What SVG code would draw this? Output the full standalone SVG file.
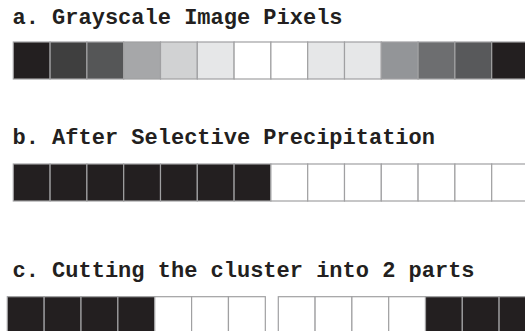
<svg xmlns="http://www.w3.org/2000/svg" width="525" height="331" viewBox="0 0 525 331">
<style>
.t{font-family:"Liberation Mono","Courier New",monospace;font-weight:bold;font-size:22px;fill:#231f20}
.c rect{stroke:#a0a0a2;stroke-width:1.2}
.k{fill:#231f20}
.w{fill:#ffffff}
</style>
<rect x="0" y="0" width="525" height="331" fill="#ffffff"/>
<g id="row-a">
<text class="t" x="12.5" y="24">a. Grayscale Image Pixels</text>
<g class="c">
<rect x="13.3" y="42" width="36.8" height="37" fill="#231f20"/>
<rect x="50.1" y="42" width="36.8" height="37" fill="#3f3f3f"/>
<rect x="86.9" y="42" width="36.8" height="37" fill="#555657"/>
<rect x="123.7" y="42" width="36.8" height="37" fill="#a6a7a9"/>
<rect x="160.5" y="42" width="36.8" height="37" fill="#d1d2d3"/>
<rect x="197.3" y="42" width="36.8" height="37" fill="#e6e7e8"/>
<rect x="234.1" y="42" width="36.8" height="37" fill="#ffffff"/>
<rect x="270.9" y="42" width="36.8" height="37" fill="#ffffff"/>
<rect x="307.7" y="42" width="36.8" height="37" fill="#e6e7e8"/>
<rect x="344.5" y="42" width="36.8" height="37" fill="#e6e7e8"/>
<rect x="381.3" y="42" width="36.8" height="37" fill="#939598"/>
<rect x="418.1" y="42" width="36.8" height="37" fill="#6d6e70"/>
<rect x="454.9" y="42" width="36.8" height="37" fill="#58595b"/>
<rect x="491.7" y="42" width="36.8" height="37" fill="#231f20"/>
</g>
</g>
<g id="row-b">
<text class="t" x="12.5" y="144">b. After Selective Precipitation</text>
<g class="c">
<rect class="k" x="13.3" y="164" width="36.8" height="37"/>
<rect class="k" x="50.1" y="164" width="36.8" height="37"/>
<rect class="k" x="86.9" y="164" width="36.8" height="37"/>
<rect class="k" x="123.7" y="164" width="36.8" height="37"/>
<rect class="k" x="160.5" y="164" width="36.8" height="37"/>
<rect class="k" x="197.3" y="164" width="36.8" height="37"/>
<rect class="k" x="234.1" y="164" width="36.8" height="37"/>
<rect class="w" x="270.9" y="164" width="36.8" height="37"/>
<rect class="w" x="307.7" y="164" width="36.8" height="37"/>
<rect class="w" x="344.5" y="164" width="36.8" height="37"/>
<rect class="w" x="381.3" y="164" width="36.8" height="37"/>
<rect class="w" x="418.1" y="164" width="36.8" height="37"/>
<rect class="w" x="454.9" y="164" width="36.8" height="37"/>
<rect class="w" x="491.7" y="164" width="36.8" height="37"/>
</g>
</g>
<g id="row-c">
<text class="t" x="12.5" y="276.7">c. Cutting the cluster into 2 parts</text>
<g id="part-1" class="c">
<rect class="k" x="7.3" y="296.7" width="36.86" height="37"/>
<rect class="k" x="44.16" y="296.7" width="36.86" height="37"/>
<rect class="k" x="81.02" y="296.7" width="36.86" height="37"/>
<rect class="k" x="117.88" y="296.7" width="36.86" height="37"/>
<rect class="w" x="154.74" y="296.7" width="36.86" height="37"/>
<rect class="w" x="191.6" y="296.7" width="36.86" height="37"/>
<rect class="w" x="228.46" y="296.7" width="36.86" height="37"/>
</g>
<g id="part-2" class="c">
<rect class="w" x="278.3" y="296.7" width="36.8" height="37"/>
<rect class="w" x="315.1" y="296.7" width="36.8" height="37"/>
<rect class="w" x="351.9" y="296.7" width="36.8" height="37"/>
<rect class="w" x="388.7" y="296.7" width="36.8" height="37"/>
<rect class="k" x="425.5" y="296.7" width="36.8" height="37"/>
<rect class="k" x="462.3" y="296.7" width="36.8" height="37"/>
<rect class="k" x="499.1" y="296.7" width="36.8" height="37"/>
</g>
</g>
</svg>
